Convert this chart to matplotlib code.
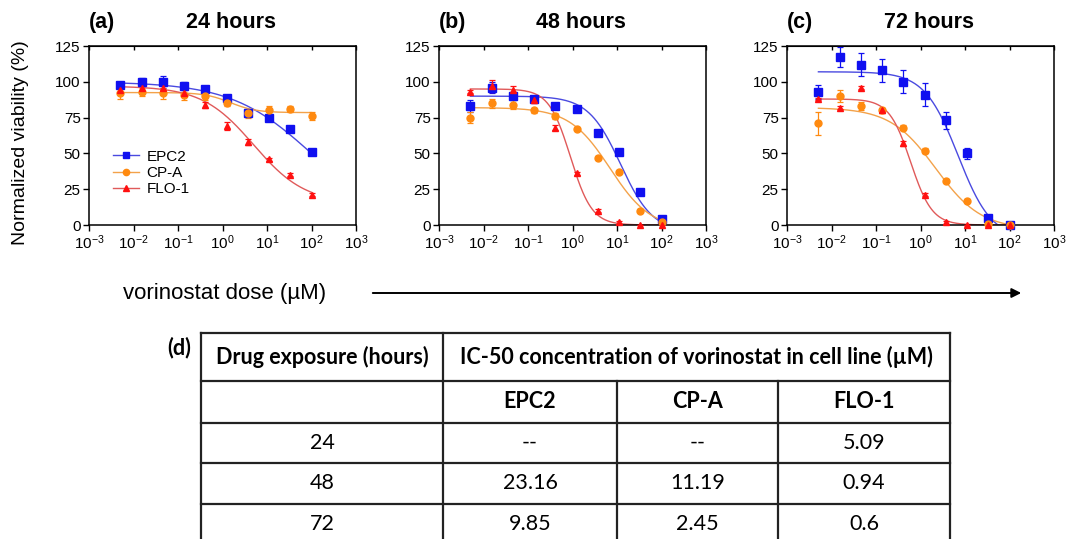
import numpy as np
import matplotlib
matplotlib.use("Agg")
import matplotlib.pyplot as plt

plt.rcParams['font.family'] = ['Liberation Sans', 'DejaVu Sans']

# doses (uM), 3-fold dilution series
dose = [0.00508, 0.01524, 0.0457, 0.137, 0.4115, 1.235, 3.70, 11.1, 33.3, 100]

lines = ['EPC2', 'CP-A', 'FLO-1']
marker_colors = ['#1010f0', '#ff8a10', '#ff1010']
curve_colors = ['#4a4ae0', '#f3a24a', '#e05a5a']
markers = ['s', 'o', '^']
panels = ['(a)', '(b)', '(c)']
hours = ['24 hours', '48 hours', '72 hours']

# viability means per panel (rows: EPC2, CP-A, FLO-1)
via_24 = [[98, 100, 100, 97, 95, 89, 78, 75, 67, 51],
          [92, 93, 92, 91, 90, 85, 78, 80, 81, 76],
          [94, 96, 96, 92, 84, 69, 58, 46, 35, 21]]
err_24 = [[2, 3, 4, 3, 2, 2, 2, 1, 1, 1],
          [4, 3, 4, 4, 3, 2, 3, 3, 2, 3],
          [2, 2, 2, 2, 2, 3, 2, 1, 1, 1]]
via_48 = [[83, 96, 90, 88, 83, 81, 64, 51, 23, 4],
          [75, 85, 84, 80, 76, 67, 47, 37, 10, 2],
          [93, 97, 94, 87, 68, 36, 10, 2, 0, 0]]
err_48 = [[4, 4, 3, 2, 2, 2, 2, 2, 1, 1],
          [4, 3, 3, 2, 2, 1, 1, 1, 1, 1],
          [1, 4, 3, 2, 2, 1, 1, 1, 0, 0]]
via_72 = [[93, 117, 112, 108, 100, 91, 73, 50, 5, 0],
          [71, 90, 83, 80, 68, 52, 31, 17, 1, 0],
          [88, 82, 96, 80, 57, 21, 2, 0, 0, 0]]
err_72 = [[5, 7, 8, 8, 8, 8, 6, 4, 1, 1],
          [8, 4, 3, 2, 2, 2, 1, 1, 1, 1],
          [1, 1, 1, 2, 2, 1, 1, 0, 0, 0]]

# fitted 4PL curves: top, bottom, ec50, hill
fit_24 = [[100, 0, 100, 0.48], [92.5, 78.5, 1.5, 1.5], [97, 15, 5, 0.75]]
fit_48 = [[90, -5, 12, 1.2], [82, -3, 7, 0.95], [95, 0, 0.9, 1.8]]
fit_72 = [[107, -10, 7, 1.15], [82, -3, 2.2, 0.85], [88, 0, 0.6, 1.8]]

via = [via_24, via_48, via_72]
err = [err_24, err_48, err_72]
fits = [fit_24, fit_48, fit_72]

# IC-50 table
tab_head = ['Drug exposure (hours)', 'IC-50 concentration of vorinostat in cell line (\u00b5M)']
tab_cols = ['', 'EPC2', 'CP-A', 'FLO-1']
tab_rows = [['24', '--', '--', '5.09'],
            ['48', '23.16', '11.19', '0.94'],
            ['72', '9.85', '2.45', '0.6']]


def four_pl(x, top, bottom, ec50, hill):
    return bottom + (top - bottom) / (1 + (x / ec50) ** hill)


fig = plt.figure(figsize=(10.8, 5.39), dpi=100)
W, H = 1080, 539
lefts = [89, 439, 787]
xs = np.logspace(np.log10(dose[0]), 2, 300)

for p in range(3):
    ax = fig.add_axes([lefts[p] / W, 1 - 225 / H, 267 / W, 179 / H])
    handles = []
    for i in range(3):
        ax.plot(xs, four_pl(xs, *fits[p][i]), color=curve_colors[i], lw=1.0)
        ax.errorbar(dose, via[p][i], yerr=err[p][i], fmt=markers[i],
                    color=marker_colors[i], ms=5 if i else 5.5, capsize=2.5,
                    elinewidth=0.9, capthick=0.9, clip_on=False, zorder=3)
        h, = ax.plot([], [], color=curve_colors[i], marker=markers[i],
                     mfc=marker_colors[i], mec=marker_colors[i], ms=4.5, lw=1.0)
        handles.append(h)
    ax.set_xscale('log')
    ax.set_xlim(1e-3, 1e3)
    ax.set_ylim(0, 125)
    ax.set_yticks([0, 25, 50, 75, 100, 125])
    ax.xaxis.set_minor_locator(matplotlib.ticker.NullLocator())
    ax.tick_params(axis='both', direction='out', length=4, width=1, labelsize=11, pad=2)
    top = ax.secondary_xaxis('top')
    top.xaxis.set_minor_locator(matplotlib.ticker.NullLocator())
    top.tick_params(direction='in', length=3, width=1, labeltop=False)
    for s in ax.spines.values():
        s.set_linewidth(1.1)
    ax.text(0.0, 1.07, panels[p], transform=ax.transAxes, fontsize=15.5,
            fontweight='bold', ha='left', va='bottom')
    ax.text(0.53, 1.07, hours[p], transform=ax.transAxes, fontsize=15.5,
            fontweight='bold', ha='center', va='bottom')
    if p == 0:
        ax.set_ylabel('Normalized viability (%)', fontsize=14)
        ax.yaxis.set_label_coords(-0.225, 0.46)
        ax.legend(handles, lines, loc='lower left', bbox_to_anchor=(0.05, 0.1),
                  frameon=False, fontsize=11, handlelength=1.7,
                  handletextpad=0.5, labelspacing=0.15, borderpad=0.2)

# x-axis caption and arrow
fig.text(123 / W, 1 - 293 / H, 'vorinostat dose (\u00b5M)', fontsize=16,
         ha='left', va='center')
fig.add_artist(matplotlib.patches.FancyArrowPatch(
    (370 / W, 1 - 293 / H), (1024 / W, 1 - 293 / H), transform=fig.transFigure,
    arrowstyle='-|>', mutation_scale=14, lw=1.4, color='black'))

# table overlay in pixel coordinates
tax = fig.add_axes([0, 0, 1, 1])
tax.set_xlim(0, W)
tax.set_ylim(H, 0)
tax.axis('off')
col_x = [201, 443, 617, 778, 950]
row_y = [333, 381, 423, 463, 503.5, 544]
lk = dict(color='#222222', lw=1.6)
for y in row_y:
    tax.plot([col_x[0], col_x[-1]], [y, y], **lk)
tax.plot([col_x[0], col_x[0]], [row_y[0], H], **lk)
tax.plot([col_x[-1], col_x[-1]], [row_y[0], H], **lk)
tax.plot([col_x[1], col_x[1]], [row_y[0], H], **lk)
for c in col_x[2:4]:
    tax.plot([c, c], [row_y[1], H], **lk)

tf = dict(family=['Lato', 'DejaVu Sans'], fontsize=15.5, ha='center', va='center')
tax.text((col_x[0] + col_x[1]) / 2, (row_y[0] + row_y[1]) / 2, tab_head[0],
         fontweight='bold', **tf)
tax.text((col_x[1] + col_x[4]) / 2, (row_y[0] + row_y[1]) / 2, tab_head[1],
         fontweight='bold', **tf)
for j, t in enumerate(tab_cols):
    tax.text((col_x[j] + col_x[j + 1]) / 2, (row_y[1] + row_y[2]) / 2, t,
             fontweight='bold', **tf)
for r, row in enumerate(tab_rows):
    for j, t in enumerate(row):
        tax.text((col_x[j] + col_x[j + 1]) / 2, (row_y[r + 2] + row_y[r + 3]) / 2, t, **tf)
tax.text(179, 348, '(d)', fontweight='bold', **tf)

fig.savefig('out.png', dpi=100)
